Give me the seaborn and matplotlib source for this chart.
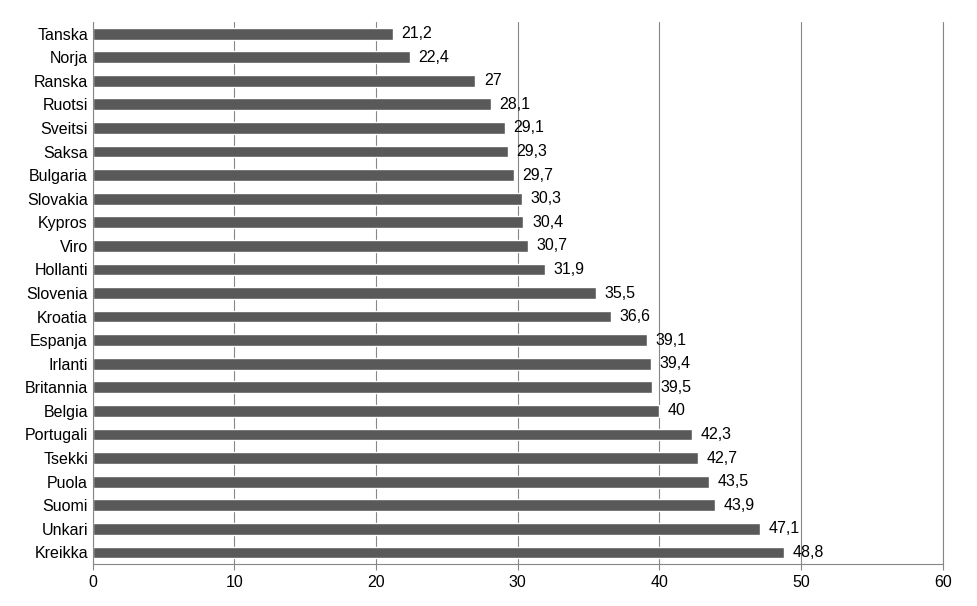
import matplotlib
matplotlib.use("Agg")
import matplotlib.pyplot as plt
import seaborn as sns
import pandas as pd

countries = ["Tanska","Norja","Ranska","Ruotsi","Sveitsi","Saksa","Bulgaria","Slovakia","Kypros","Viro",
             "Hollanti","Slovenia","Kroatia","Espanja","Irlanti","Britannia","Belgia","Portugali","Tsekki",
             "Puola","Suomi","Unkari","Kreikka"]
values = [21.2,22.4,27,28.1,29.1,29.3,29.7,30.3,30.4,30.7,31.9,35.5,36.6,39.1,39.4,39.5,40,42.3,42.7,43.5,43.9,47.1,48.8]
xticks = [0,10,20,30,40,50,60]

sns.set_style("white")
plt.rcParams['font.family'] = ['Liberation Sans', 'DejaVu Sans']

df = pd.DataFrame({"country": countries, "value": values})
fig = plt.figure(figsize=(9.77, 6.06), dpi=100)
ax = fig.add_axes([0.095, 0.069, 0.870, 0.895])
sns.barplot(data=df, x="value", y="country", color="#595959", width=0.5, ax=ax, saturation=1)
ax.set_xlim(0, 60)
ax.set_xticks(xticks)
ax.set_ylim(len(countries) - 0.5, -0.5)
ax.grid(axis="x", color="#868686", linewidth=0.8)
ax.axvline(60, color="#868686", linewidth=0.8, clip_on=False, zorder=0)
ax.set_axisbelow(True)
ax.set_xlabel("")
ax.set_ylabel("")
for s in ["top", "right"]:
    ax.spines[s].set_visible(False)
for s in ["left", "bottom"]:
    ax.spines[s].set_color("#868686")
ax.tick_params(axis="x", length=4, color="#868686", labelsize=11.5, labelcolor="black", direction="out", bottom=True)
ax.tick_params(axis="y", length=0, labelsize=11.5, labelcolor="black")
for i, v in enumerate(values):
    ax.text(v + 0.6, i, f"{v:g}".replace(".", ","), va="center", ha="left", fontsize=11.5, color="black")
fig.savefig("out.png", dpi=100)
